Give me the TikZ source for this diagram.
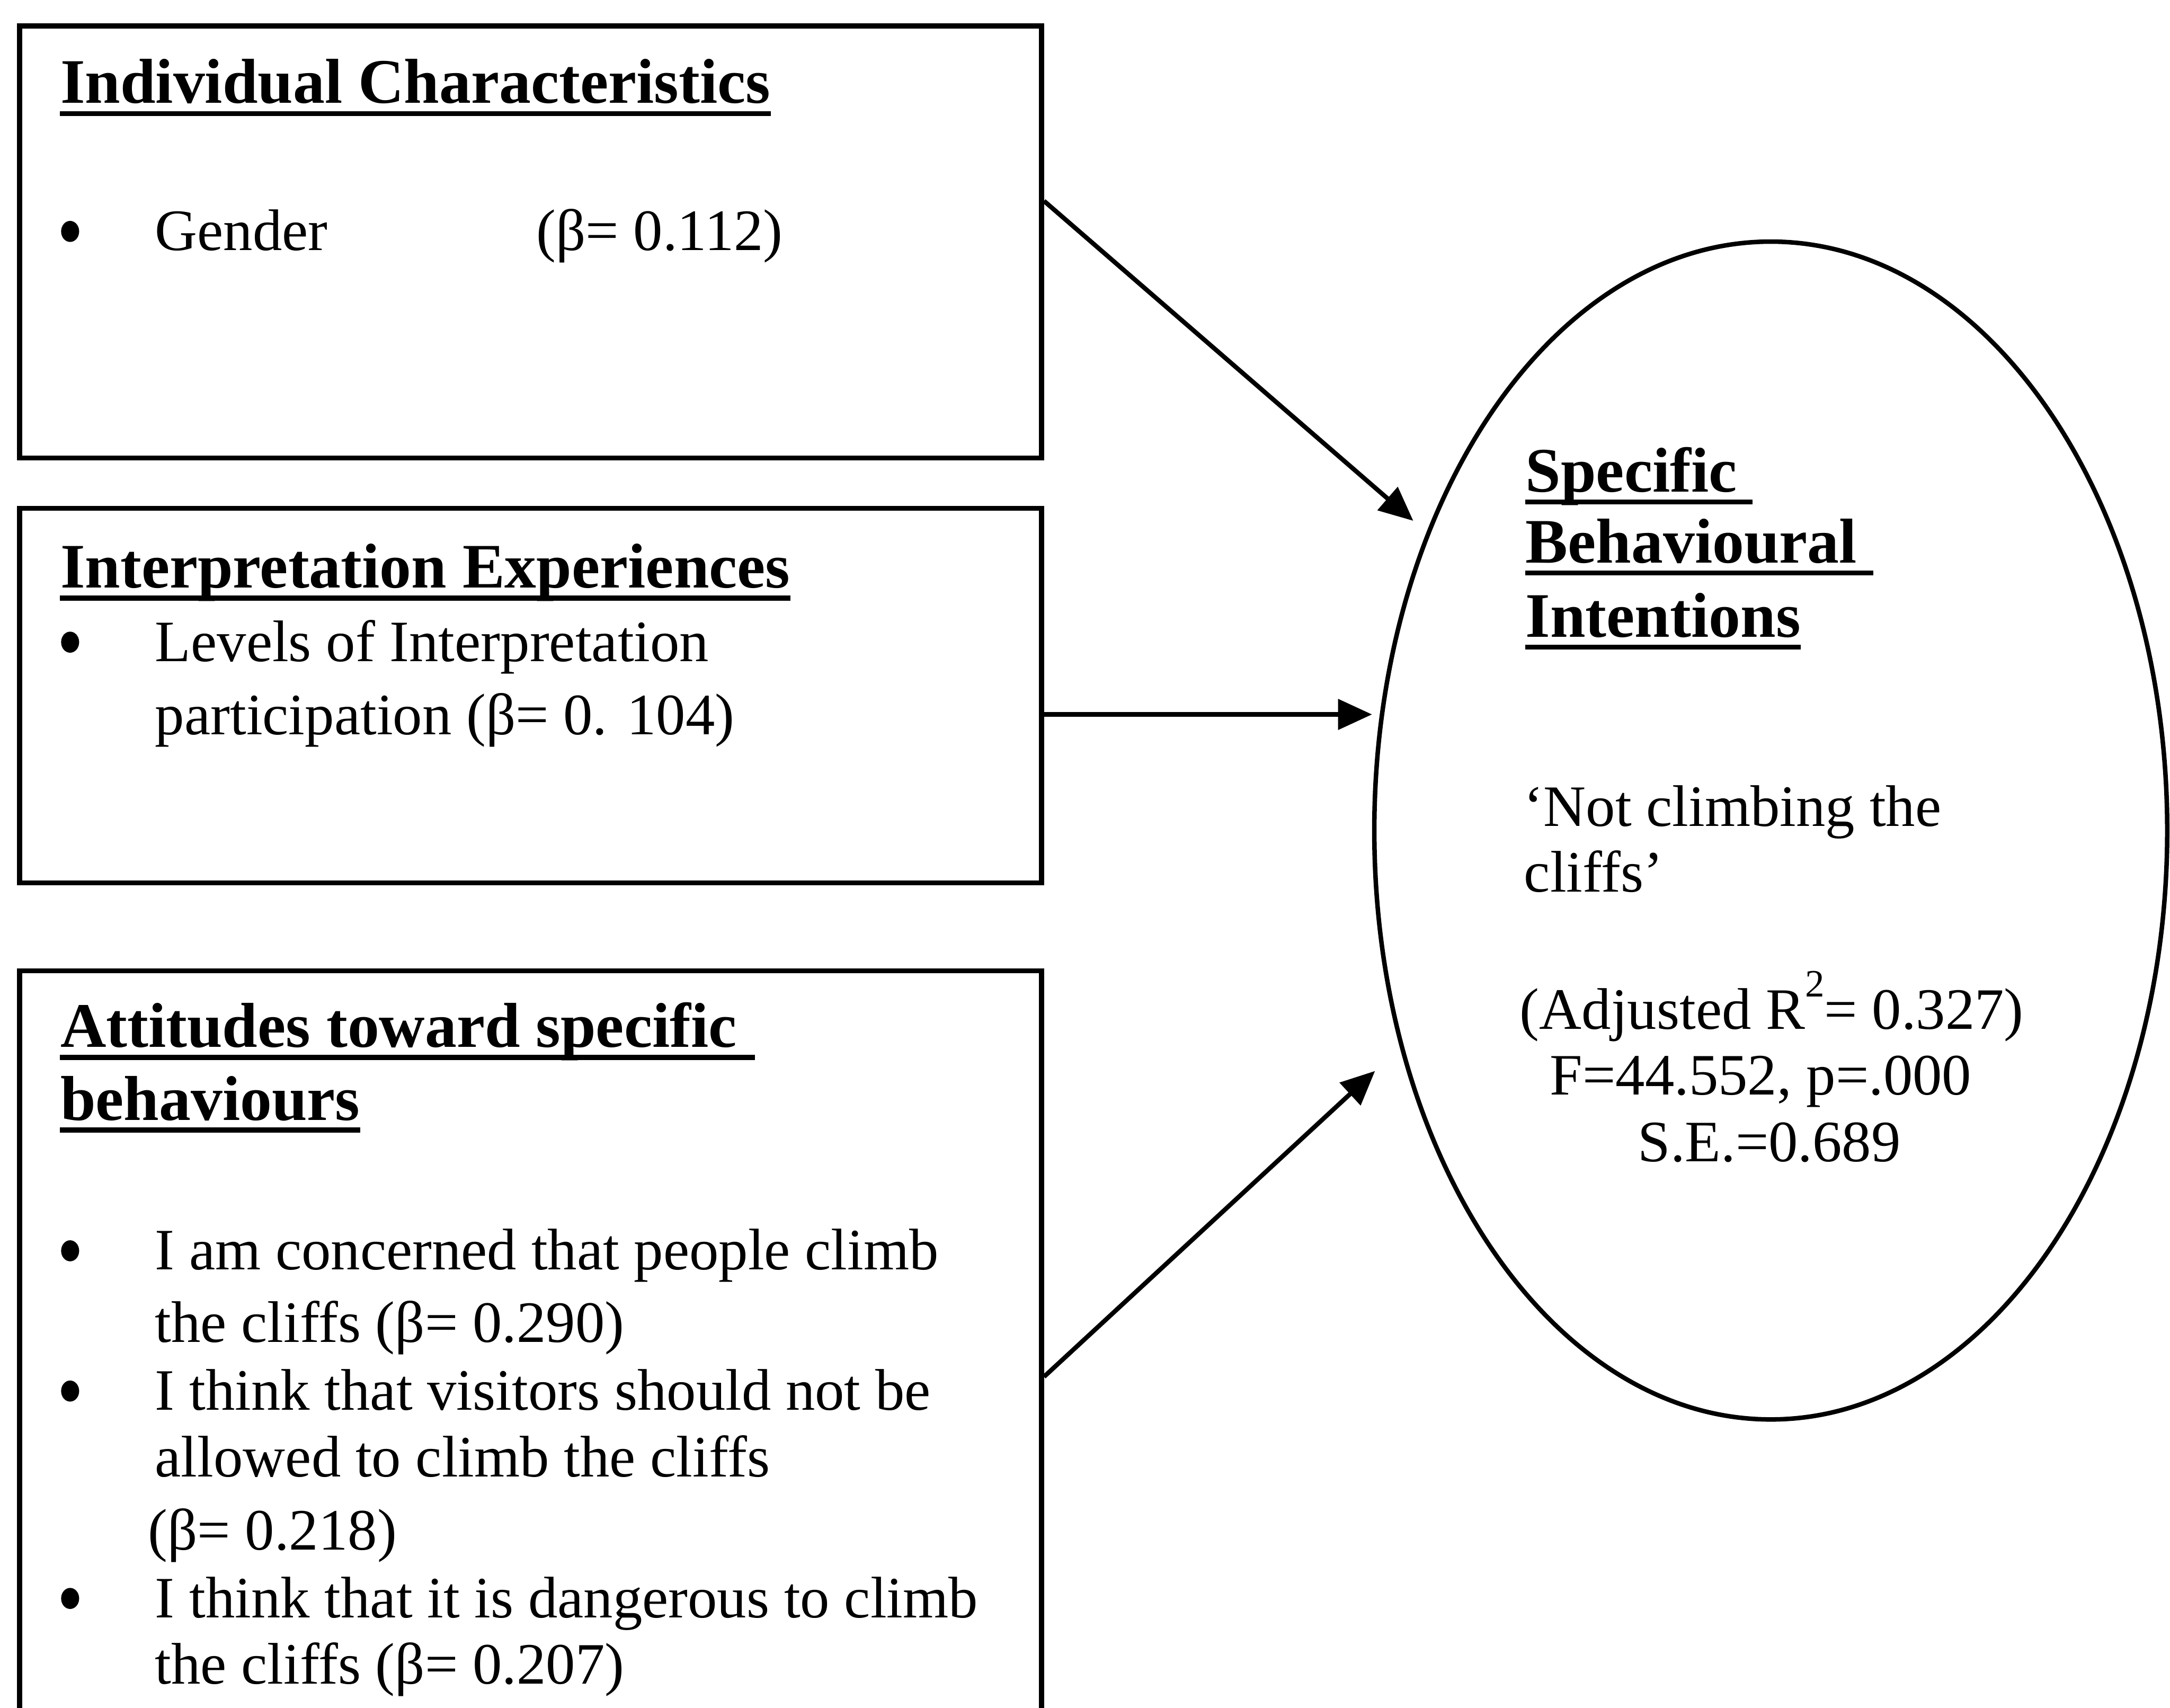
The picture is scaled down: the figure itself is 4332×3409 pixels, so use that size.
\documentclass[tikz,border=0pt]{standalone}
\usepackage{fontspec}
\setmainfont{Liberation Serif}
\usetikzlibrary{shapes.geometric,arrows.meta}
\begin{document}
\begin{tikzpicture}[x=0.01cm,y=-0.01cm,
  frame/.style={draw, line width=0.1cm, rectangle, anchor=north west, inner sep=0, minimum width=20.39cm},
  txt/.style={anchor=base west, inner sep=0, font=\fontsize{33.3}{40}\selectfont},
  ttl/.style={anchor=base west, inner sep=0, font=\bfseries\fontsize{36}{43}\selectfont},
  ctr/.style={anchor=base, inner sep=0, font=\fontsize{33.3}{40}\selectfont},
  bul/.style={fill=black, ellipse, inner sep=0, minimum width=0.36cm, minimum height=0.42cm},
  uline/.style={line width=0.1cm},
  arr/.style={line width=0.09cm, -{Triangle[length=0.68cm,width=0.6cm]}}
]
\useasboundingbox (0,0) rectangle (4332,3409);
\clip (0,0) rectangle (4332,3409);

% boxes
\node[frame, minimum height=8.62cm] (b1) at (34,47) {};
\node[frame, minimum height=7.47cm] (b2) at (34,1010) {};
\node[frame, minimum height=15.5cm] (b3) at (34,1933) {};

% ellipse
\node[draw, ellipse, line width=0.09cm, inner sep=0, minimum width=15.82cm, minimum height=23.5cm] (ell) at (3535,1658) {};

% box 1 text
\node[ttl] (t1) at (120,206) {Individual Characteristics};
\draw[uline] ([yshift=-0.21cm]t1.base west) -- ([yshift=-0.21cm]t1.base east);
\node[bul] (g1) at (140,462) {};
\node[txt] (g2) at (309,500) {Gender};
\node[txt] (g3) at (1070,500) {(β= 0.112)};

% box 2 text
\node[ttl] (t2) at (120,1173) {Interpretation Experiences};
\draw[uline] ([yshift=-0.21cm]t2.base west) -- ([yshift=-0.21cm]t2.base east);
\node[bul] (l0) at (140,1282) {};
\node[txt] (l1) at (309,1320) {Levels of Interpretation};
\node[txt] (l2) at (309,1466) {participation (β= 0. 104)};

% box 3 text
\node[ttl] (t3) at (120,2090) {Attitudes toward specific};
\draw[uline] ([yshift=-0.21cm]t3.base west) -- ([xshift=0.35cm,yshift=-0.21cm]t3.base east);
\node[ttl] (t4) at (120,2236) {behaviours};
\draw[uline] ([yshift=-0.2cm]t4.base west) -- ([yshift=-0.2cm]t4.base east);
\node[bul] (a0) at (140,2497) {};
\node[txt] (a1) at (309,2535) {I am concerned that people climb};
\node[txt] (a2) at (309,2679) {the cliffs (β= 0.290)};
\node[bul] (c0) at (140,2777) {};
\node[txt] (c1) at (309,2815) {I think that visitors should not be};
\node[txt] (c2) at (309,2948) {allowed to climb the cliffs};
\node[txt] (c3) at (295,3094) {(β= 0.218)};
\node[bul] (d0) at (140,3191) {};
\node[txt] (d1) at (309,3229) {I think that it is dangerous to climb};
\node[txt] (d2) at (309,3362) {the cliffs (β= 0.207)};

% ellipse text
\node[ttl] (e1) at (3045,982) {Specific};
\draw[uline] ([yshift=-0.2cm]e1.base west) -- ([xshift=0.3cm,yshift=-0.2cm]e1.base east);
\node[ttl] (e2) at (3045,1124) {Behavioural};
\draw[uline] ([yshift=-0.2cm]e2.base west) -- ([xshift=0.32cm,yshift=-0.2cm]e2.base east);
\node[ttl] (e3) at (3045,1272) {Intentions};
\draw[uline] ([yshift=-0.2cm]e3.base west) -- ([yshift=-0.2cm]e3.base east);
\node[txt] (e4) at (3042,1649) {‘Not climbing the};
\node[txt] (e5) at (3042,1781) {cliffs’};
\node[ctr] (e6) at (3537,2054) {(Adjusted R\raisebox{0.55em}{\fontsize{22}{22}\selectfont 2}= 0.327)};
\node[ctr] (e7) at (3515,2186) {F=44.552, p=.000};
\node[ctr] (e8) at (3532,2319) {S.E.=0.689};

% arrows
\coordinate (a3e) at (2745,2138);
\draw[arr, shorten >=0.35cm] ([yshift=-3.54cm]b1.north east) -- (ell);
\draw[arr] ([yshift=-4.16cm]b2.north east) -- ([yshift=-4.16cm]b2.north east -| ell.west);
\draw[arr] ([yshift=-8.15cm]b3.north east) -- (a3e);
\end{tikzpicture}
\end{document}
